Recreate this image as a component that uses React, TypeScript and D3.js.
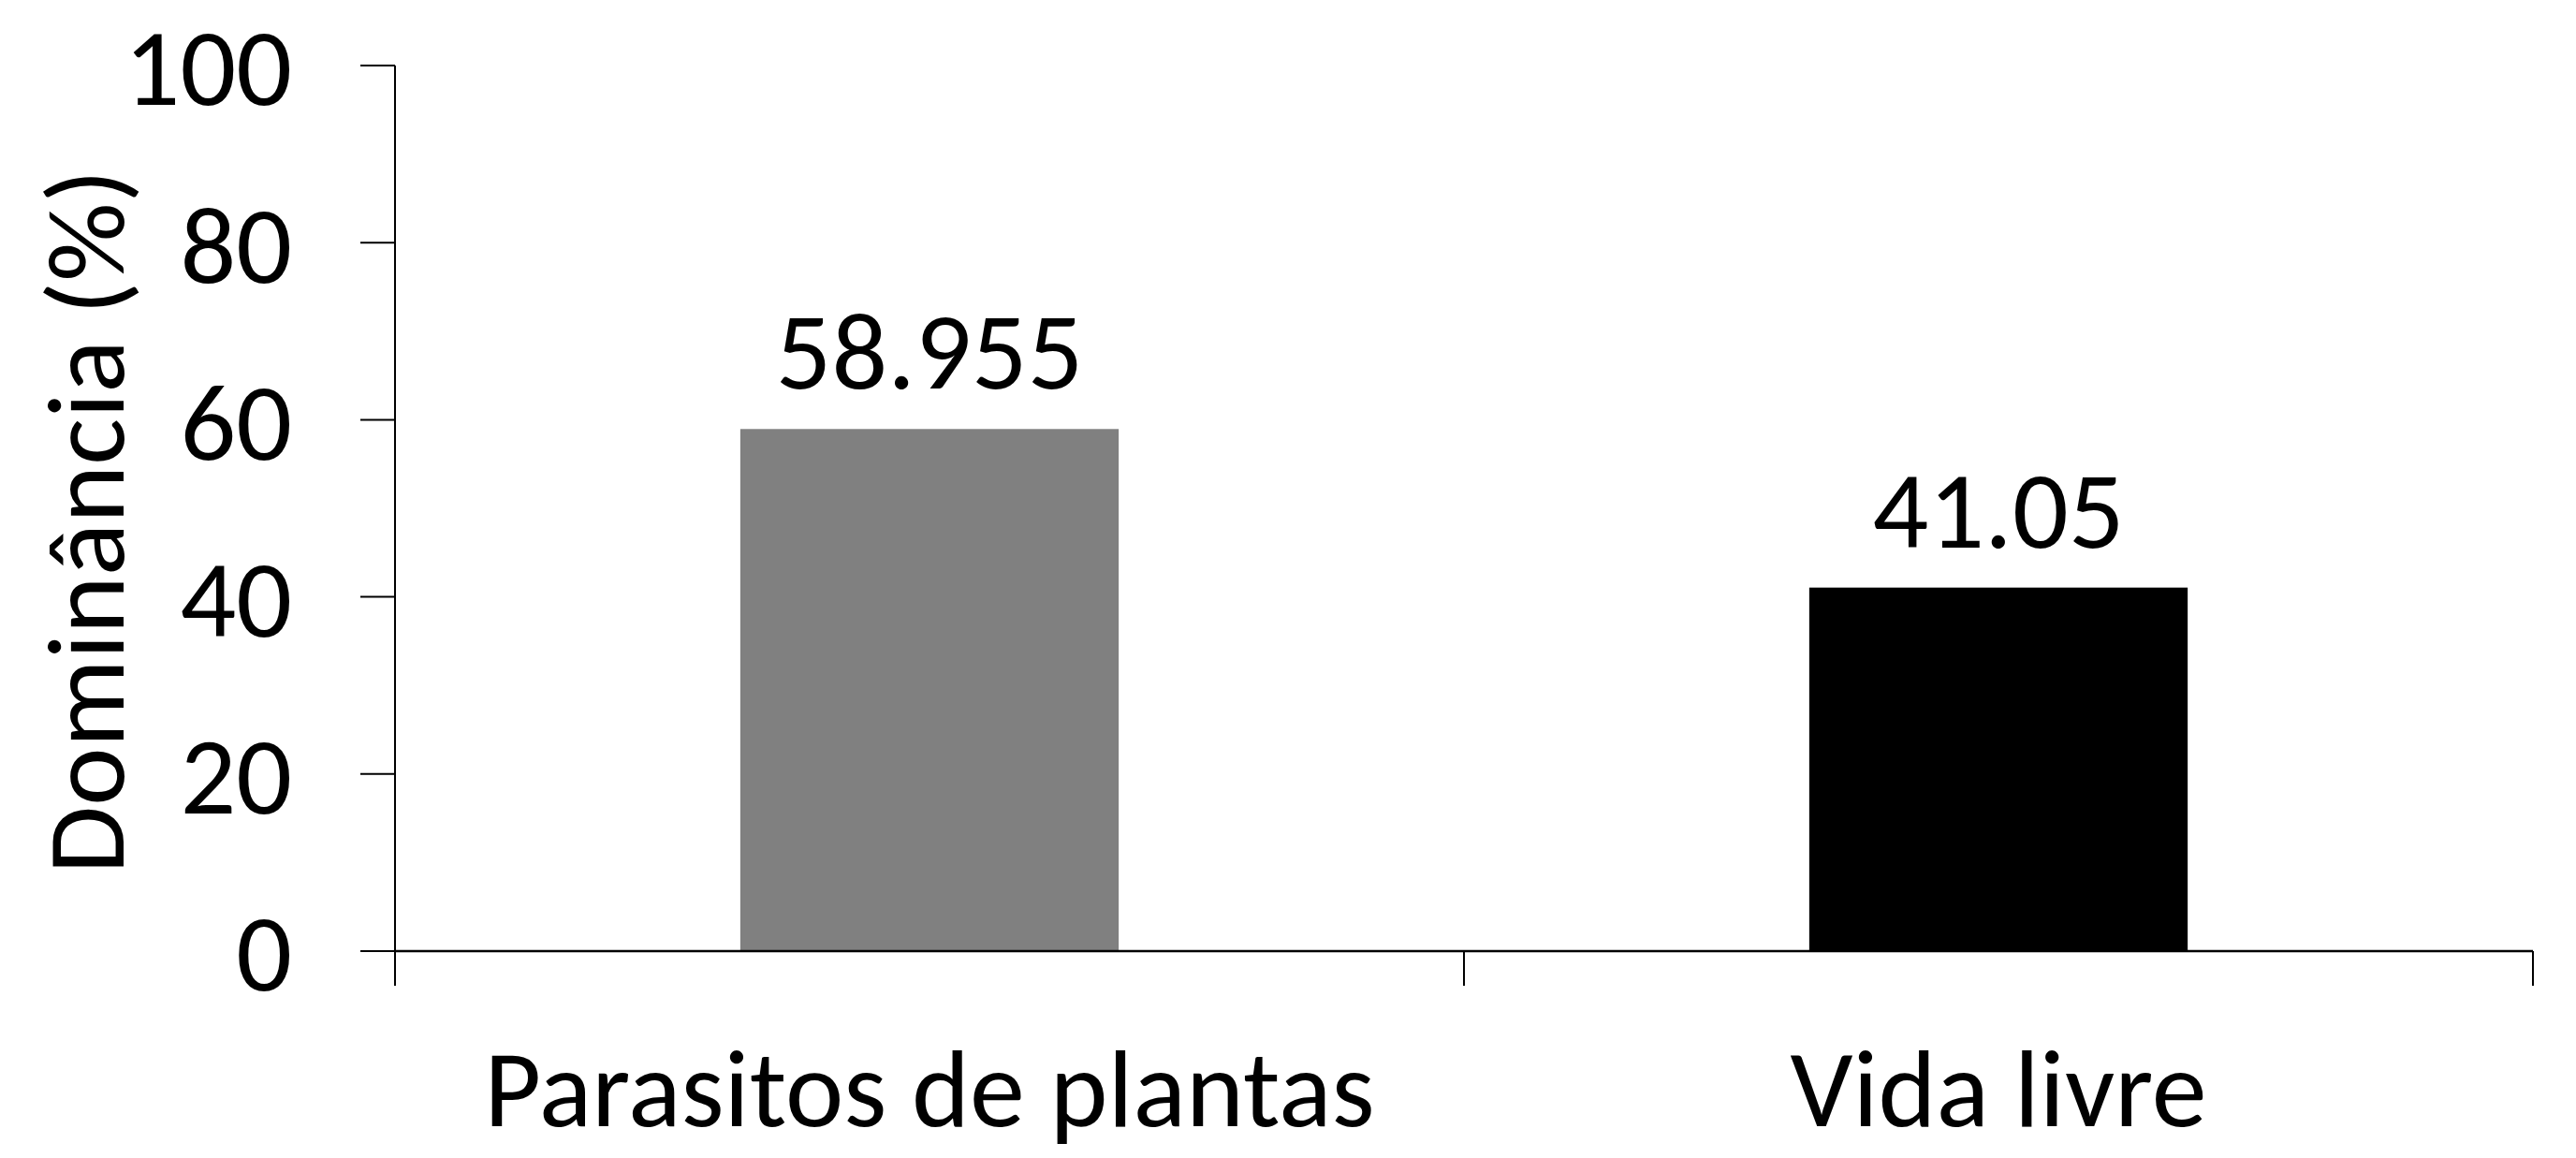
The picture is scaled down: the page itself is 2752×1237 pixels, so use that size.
import React from "react";
import * as d3 from "d3";

const categories = ["Parasitos de plantas", "Vida livre"];
const values = [58.955, 41.05];
const valueLabels = ["58.955", "41.05"];
const barColors = ["#808080", "#000000"];
const yTicks = [0, 20, 40, 60, 80, 100];
const yTitle = "Dominância (%)";

const W = 2752;
const H = 1237;
const left = 422;
const right = 2706;
const top = 70;
const bottom = 1016;
const FONT = "Carlito, Calibri, Lato, sans-serif";

export default function App() {
  const x = d3.scaleBand<string>().domain(categories).range([left, right]).padding(0);
  const y = d3.scaleLinear().domain([0, 100]).range([bottom, top]);
  const bw = x.bandwidth() * 0.354;
  const tickLen = 37;
  const fs = 118;
  const catEdges = [...categories.map((c) => x(c) as number), right];

  return (
    <svg
      width={W}
      height={H}
      style={{ position: "absolute", left: 0, top: 0, background: "#fff" }}
      fontFamily={FONT}
    >
      <rect x={0} y={0} width={W} height={H} fill="#fff" />
      {categories.map((c, i) => {
        const cx = (x(c) as number) + x.bandwidth() / 2;
        return (
          <g key={c}>
            <rect
              x={cx - bw / 2}
              y={y(values[i])}
              width={bw}
              height={bottom - y(values[i])}
              fill={barColors[i]}
            />
            <text x={cx} y={y(values[i]) - 43} textAnchor="middle" fontSize={fs} fill="#000">
              {valueLabels[i]}
            </text>
            <text x={cx} y={1203} textAnchor="middle" fontSize={fs} fill="#000">
              {c}
            </text>
          </g>
        );
      })}
      {/* y axis */}
      <line x1={left} x2={left} y1={top} y2={bottom + tickLen} stroke="#000" strokeWidth={2} />
      {yTicks.map((t) => (
        <g key={t}>
          <line x1={left - tickLen} x2={left} y1={y(t)} y2={y(t)} stroke="#000" strokeWidth={2} />
          <text x={312} y={y(t)} dy="0.36em" textAnchor="end" fontSize={fs} fill="#000">
            {t}
          </text>
        </g>
      ))}
      {/* x axis */}
      <line x1={left} x2={right} y1={bottom} y2={bottom} stroke="#000" strokeWidth={2.5} />
      {catEdges.map((e, i) => (
        <line key={i} x1={e} x2={e} y1={bottom} y2={bottom + tickLen} stroke="#000" strokeWidth={2} />
      ))}
      <text
        transform={`translate(132, ${(top + bottom) / 2 + 14}) rotate(-90)`}
        textAnchor="middle"
        fontSize={fs}
        fill="#000"
      >
        {yTitle}
      </text>
    </svg>
  );
}
